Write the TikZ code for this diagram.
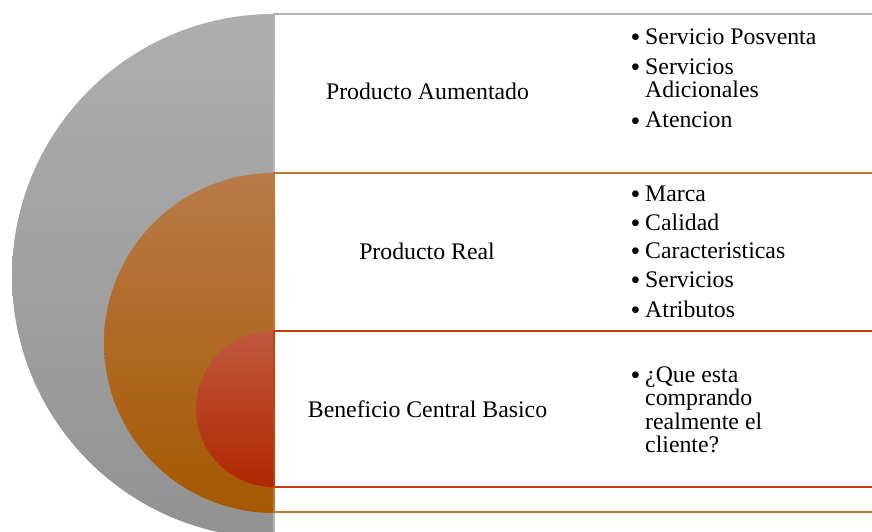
\documentclass[tikz,border=0pt]{standalone}
\usepackage{fontspec}
\setmainfont{Liberation Serif}
\begin{document}
\begin{tikzpicture}[x=1pt,y=-1pt,
  lbl/.style={anchor=base,inner sep=0pt,font=\fontsize{23.8}{23}\selectfont},
  itm/.style={anchor=base west,inner sep=0pt,font=\fontsize{23.8}{23}\selectfont},
  bul/.style={anchor=base west,inner sep=0pt,yshift=-2pt,font=\fontsize{28}{28}\selectfont},
  boxline/.style={line width=1.4pt,fill=white}]
\definecolor{grayT}{HTML}{AEAEAE}
\definecolor{grayB}{HTML}{929292}
\definecolor{orT}{HTML}{B87A48}
\definecolor{orM}{HTML}{B46200}
\definecolor{orB}{HTML}{A65800}
\definecolor{redT}{HTML}{C0583F}
\definecolor{redM}{HTML}{BC2C04}
\definecolor{redB}{HTML}{B02800}
\definecolor{grayL}{HTML}{B4B4B4}
\definecolor{orL}{HTML}{C07A30}
\definecolor{redL}{HTML}{C2400E}
\useasboundingbox (0,0) rectangle (872,532);
% gray half circle
\begin{scope}
\clip (0,0) rectangle (274,532);
\shade[top color=grayT,bottom color=grayB] (274,276) circle[radius=262];
\end{scope}
\draw[boxline,draw=grayL] (880,14) -- (274,14) -- (274,540);
% orange half circle
\begin{scope}
\clip (0,0) rectangle (274,532);
\shade[top color=orT,middle color=orM,bottom color=orB] (274,343) circle[radius=170];
\end{scope}
\draw[boxline,draw=orL] (880,173) -- (274,173) -- (274,512) -- (880,512);
% red half circle
\begin{scope}
\clip (0,0) rectangle (274,532);
\shade[top color=redT,middle color=redM,bottom color=redB] (274,409) circle[radius=78];
\end{scope}
\draw[boxline,draw=redL] (880,331) -- (274,331) -- (274,487) -- (880,487);
% labels
\node[lbl] (l1) at (427.5,100) {Producto Aumentado};
\node[lbl] (l2) at (427,259) {Producto Real};
\node[lbl] (l3) at (427.5,417) {Beneficio Central Basico};
% list 1
\node[bul] (b1a) at (630.5,45) {•};
\node[itm] (i1a) at (645,45) {Servicio Posventa};
\node[bul] (b1b) at (630.5,75) {•};
\node[itm] (i1b) at (645,75) {Servicios};
\node[itm] (i1c) at (645,98) {Adicionales};
\node[bul] (b1d) at (630.5,128) {•};
\node[itm] (i1d) at (645,128) {Atencion};
% list 2
\node[bul] (b2a) at (630.5,201) {•};
\node[itm] (i2a) at (645,201) {Marca};
\node[bul] (b2b) at (630.5,230) {•};
\node[itm] (i2b) at (645,230) {Calidad};
\node[bul] (b2c) at (630.5,258.5) {•};
\node[itm] (i2c) at (645,258.5) {Caracteristicas};
\node[bul] (b2d) at (630.5,287.5) {•};
\node[itm] (i2d) at (645,287.5) {Servicios};
\node[bul] (b2e) at (630.5,317) {•};
\node[itm] (i2e) at (645,317) {Atributos};
% list 3
\node[bul] (b3a) at (630.5,382) {•};
\node[itm] (i3a) at (645,382) {¿Que esta};
\node[itm] (i3b) at (645,405.5) {comprando};
\node[itm] (i3c) at (645,429) {realmente el};
\node[itm] (i3d) at (645,452.5) {cliente?};
\end{tikzpicture}
\end{document}
